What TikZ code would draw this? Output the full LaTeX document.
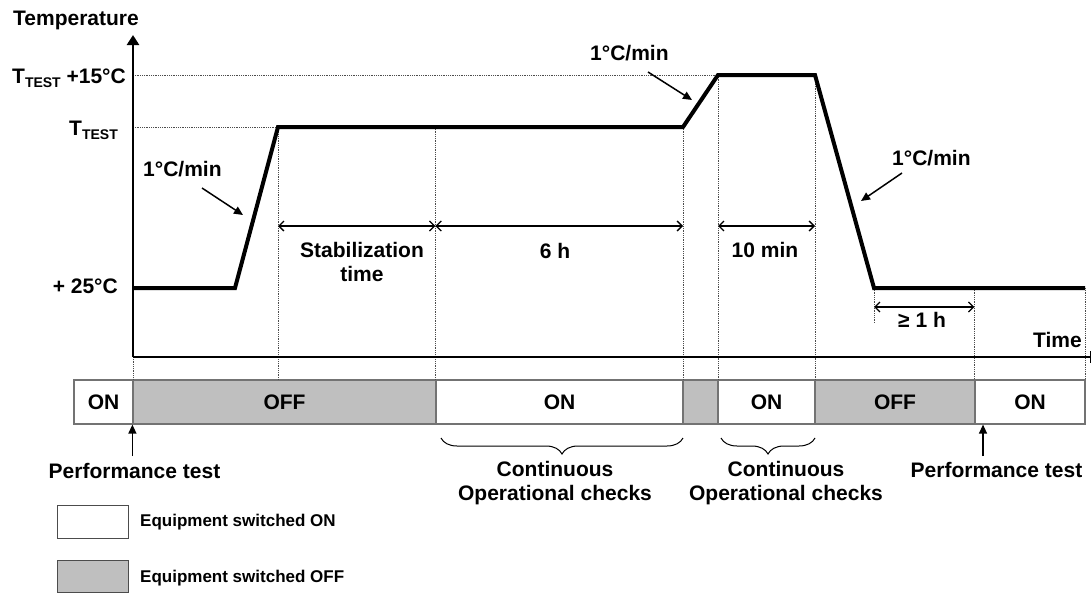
\documentclass[tikz,border=0pt]{standalone}
\usepackage{fontspec}
\setmainfont{Liberation Sans}
\usetikzlibrary{arrows.meta,decorations.pathreplacing}
\newcommand\tsubx{\raisebox{-4pt}{\fontsize{14}{14}\selectfont TEST}}
\begin{document}
\begin{tikzpicture}[x=1pt,y=-1pt,
  lbl/.style={font=\fontsize{21}{23.5}\selectfont\bfseries, inner sep=0pt, align=center},
  legtxt/.style={font=\fontsize{17}{19}\selectfont\bfseries, inner sep=0pt, anchor=base west},
  profile/.style={line width=4pt, line join=miter},
  axis/.style={line width=2.5pt},
  guide/.style={densely dotted, line width=0.8pt, black!70},
  dim/.style={line width=1.3pt, {Straight Barb[length=5pt,width=10pt]}-{Straight Barb[length=5pt,width=10pt]}},
  pointer/.style={line width=1.5pt, -{Triangle[length=9pt,width=8pt]}},
  cell/.style={draw=black!55, line width=1.2pt, minimum height=44pt, inner sep=0pt, font=\fontsize{21}{23}\selectfont\bfseries},
  oncell/.style={cell, fill=white},
  offcell/.style={cell, fill=black!25},
  legbox/.style={draw=black!70, line width=1pt, minimum width=71pt, minimum height=33pt, inner sep=0pt},
  brc/.style={decorate, decoration={brace, mirror, amplitude=16pt}, line width=1pt}
]
\useasboundingbox (0,0) rectangle (1092,592);

% key coordinates
\coordinate (O) at (133,357);
\coordinate (ytop) at (133,35);
\coordinate (xend) at (1090,357);
\coordinate (p0) at (133,288);
\coordinate (p1) at (235,288);
\coordinate (p2) at (278,127);
\coordinate (p3) at (683,127);
\coordinate (p4) at (718,75);
\coordinate (p5) at (815,75);
\coordinate (p6) at (874,288);
\coordinate (p7) at (1085,288);
\coordinate (dimy) at (0,226);
\coordinate (dimz) at (0,307);

% status bar
\node[oncell, minimum width=59pt] (s1) at (103.5,402) {ON};
\node[offcell, minimum width=303pt] (s2) at (284.5,402) {OFF};
\node[oncell, minimum width=247pt] (s3) at (559.5,402) {ON};
\node[offcell, minimum width=35pt] (s4) at (700.5,402) {};
\node[oncell, minimum width=97pt] (s5) at (766.5,402) {ON};
\node[offcell, minimum width=160pt] (s6) at (895,402) {OFF};
\node[oncell, minimum width=110pt] (s7) at (1030,402) {ON};

% guide lines
\draw[guide] (ytop |- p4) -- (p4);
\draw[guide] (ytop |- p2) -- (p2);
\draw[guide] (p2) -- (p2 |- s2.north);
\draw[guide] (s3.north west |- p2) -- (s3.north west);
\draw[guide] (p3) -- (p3 |- s4.north);
\draw[guide] (p4) -- (p4 |- s5.north);
\draw[guide] (p5) -- (p5 |- s6.north);
\draw[guide] (p6) -- ++(0,35);
\draw[guide] (s7.north west |- p7) -- (s7.north west);
\draw[guide] (p7) -- (p7 |- s7.north);
\draw[guide] (O) -- (O |- s2.north);

% axes
\draw[axis, -{Triangle[length=10pt,width=12pt]}] (O) -- (ytop);
\draw[axis] (O) -- (xend);
\draw[line width=1pt] ([yshift=6pt]xend) -- ([yshift=-6pt]xend);

% temperature profile
\draw[profile] (p0) -- (p1) -- (p2) -- (p3) -- (p4) -- (p5) -- (p6) -- (p7);

% axis labels
\node[lbl, anchor=base west] (tlab) at (13,25) {Temperature};
\node[lbl, anchor=base east] (l15) at (126,83) {T\tsubx{} +15°C};
\node[lbl, anchor=base east] (lT) at (118,135) {T\tsubx};
\node[lbl, anchor=base east] (l25) at (118,293) {+ 25°C};
\node[lbl, anchor=base east] (time) at (1082,347) {Time};

% rate labels and pointers
\node[lbl, anchor=base west] (r1) at (143,176) {1°C/min};
\node[lbl, anchor=base west] (r2) at (590,60) {1°C/min};
\node[lbl, anchor=base west] (r3) at (892,165) {1°C/min};
\coordinate (a1s) at (202,188); \coordinate (a1e) at (243,215);
\coordinate (a2s) at (648,72);  \coordinate (a2e) at (692,100);
\coordinate (a3s) at (902,173); \coordinate (a3e) at (861,201);
\draw[pointer] (a1s) -- (a1e);
\draw[pointer] (a2s) -- (a2e);
\draw[pointer] (a3s) -- (a3e);

% durations
\draw[dim] (p2 |- dimy) -- (s3.north west |- dimy);
\draw[dim] (s3.north west |- dimy) -- (p3 |- dimy);
\draw[dim] (p4 |- dimy) -- (p5 |- dimy);
\draw[dim] (p6 |- dimz) -- (s7.north west |- dimz);
\node[lbl] (stab) at (362,262) {Stabilization\\time};
\node[lbl, anchor=base] (six) at (555,258) {6 h};
\node[lbl, anchor=base] (ten) at (765,257) {10 min};
\node[lbl, anchor=base] (hour) at (922,327) {≥ 1 h};

% braces
\draw[brc] (441,438) -- (683,438);
\draw[brc] (721,438) -- (815,438);
\node[lbl] (c1) at (555,483) {Continuous\\Operational checks};
\node[lbl] (c2) at (786,483) {Continuous\\Operational checks};

% performance tests
\node[lbl, anchor=base] (perfL) at (134.5,478) {Performance test};
\node[lbl, anchor=base] (perfR) at (996.5,477) {Performance test};
\coordinate (pfa) at (0,456);
\coordinate (pr) at (983,456);
\draw[pointer, line width=1.3pt] (s2.south west |- pfa) -- (s2.south west);
\draw[pointer, line width=1.3pt] (pr) -- (pr |- s7.south);

% legend
\node[legbox, fill=white] (lg1) at (92.5,521.5) {};
\node[legbox, fill=black!25, minimum height=32pt] (lg2) at (92.5,576) {};
\node[legtxt] (lt1) at (140,526) {Equipment switched ON};
\node[legtxt] (lt2) at (140,582) {Equipment switched OFF};
\end{tikzpicture}
\end{document}
